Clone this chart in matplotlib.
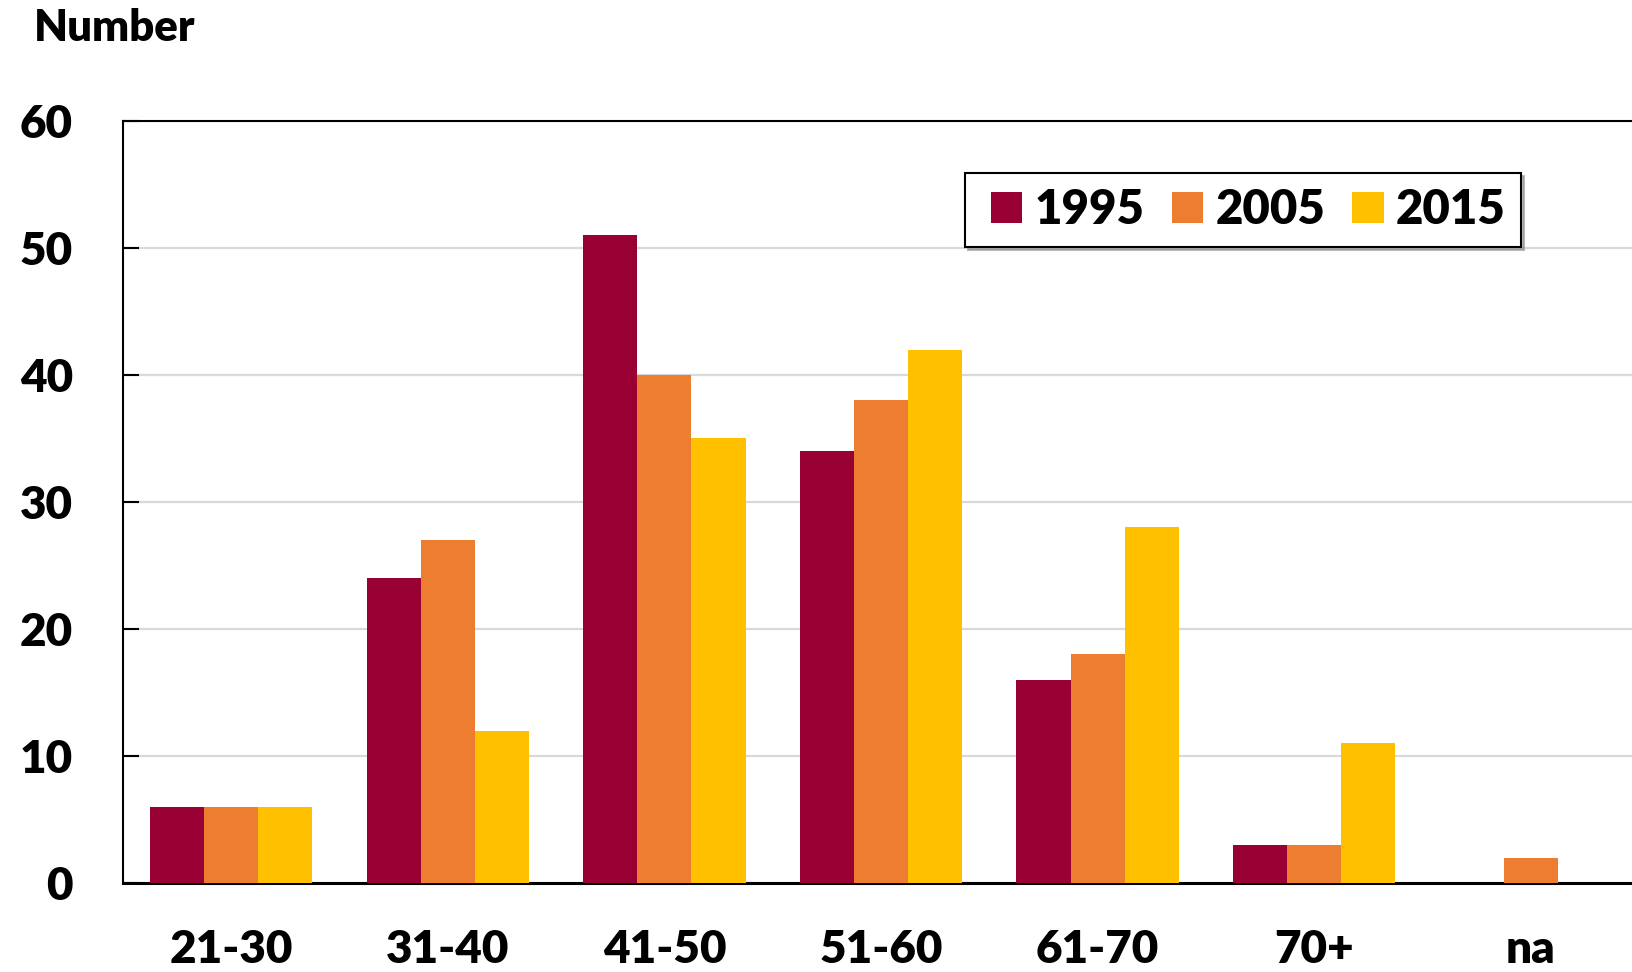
import matplotlib
matplotlib.use("Agg")
import matplotlib.pyplot as plt
from matplotlib.container import BarContainer
from matplotlib.legend_handler import HandlerPatch, update_from_first_child
from matplotlib.patches import Rectangle
import numpy as np

age_groups = ["21-30", "31-40", "41-50", "51-60", "61-70", "70+", "na"]
years = ["1995", "2005", "2015"]
counts_1995 = [6, 24, 51, 34, 16, 3, 0]
counts_2005 = [6, 27, 40, 38, 18, 3, 2]
counts_2015 = [6, 12, 35, 42, 28, 11, 0]
yticks = [0, 10, 20, 30, 40, 50, 60]

colors = ["#990033", "#ED7D31", "#FFC000"]
WEIGHT = "heavy"

plt.rcParams["font.family"] = ["Lato", "DejaVu Sans"]
plt.rcParams["font.weight"] = WEIGHT


def square_patch(legend, orig_handle, xdescent, ydescent, width, height, fontsize):
    # square marker pushed to the right end of the handle box
    return Rectangle((-xdescent + width - height, -ydescent), height, height)


fig = plt.figure(figsize=(16.33, 9.72), dpi=100)
ax = fig.add_axes([0.0753, 0.0916, 0.9284, 0.784])

x = np.arange(len(age_groups))
width = 0.25
for i, (vals, year) in enumerate(zip([counts_1995, counts_2005, counts_2015], years)):
    ax.bar(x + (i - 1) * width, vals, width, color=colors[i], label=year,
           linewidth=0, zorder=3)

ax.set_xlim(-0.5, len(age_groups) - 0.5)
ax.set_ylim(0, 60)
ax.set_yticks(yticks)
ax.set_xticks(x)
ax.set_xticklabels(age_groups)

ax.yaxis.grid(True, color="#d9d9d9", linewidth=1.6, zorder=0)
ax.set_axisbelow(True)

ax.spines["right"].set_visible(False)
ax.spines["left"].set_linewidth(1.5)
ax.spines["top"].set_linewidth(1.5)
ax.spines["bottom"].set_linewidth(2.2)

ax.tick_params(axis="y", direction="in", length=11.5, width=1.5, pad=36,
               labelsize=33)
ax.tick_params(axis="x", length=0, pad=33, labelsize=33)
for lbl in ax.get_xticklabels() + ax.get_yticklabels():
    lbl.set_fontweight(WEIGHT)

leg = ax.legend(loc="upper right", bbox_to_anchor=(0.922, 0.932), ncol=3,
                frameon=True, fancybox=False, shadow={"color": "0.55", "alpha": 0.6},
                borderaxespad=0, handlelength=0.9, handleheight=0.64,
                handletextpad=0.26, columnspacing=0.34, borderpad=0.32,
                handler_map={BarContainer: HandlerPatch(
                    patch_func=square_patch, update_func=update_from_first_child)},
                prop={"size": 34, "weight": WEIGHT})
leg.get_frame().set_edgecolor("black")
leg.get_frame().set_linewidth(1.5)

fig.text(0.021, 0.971, "Number", ha="left", va="center", fontsize=31.5,
         fontweight=WEIGHT)

fig.savefig("out.png", dpi=100)
